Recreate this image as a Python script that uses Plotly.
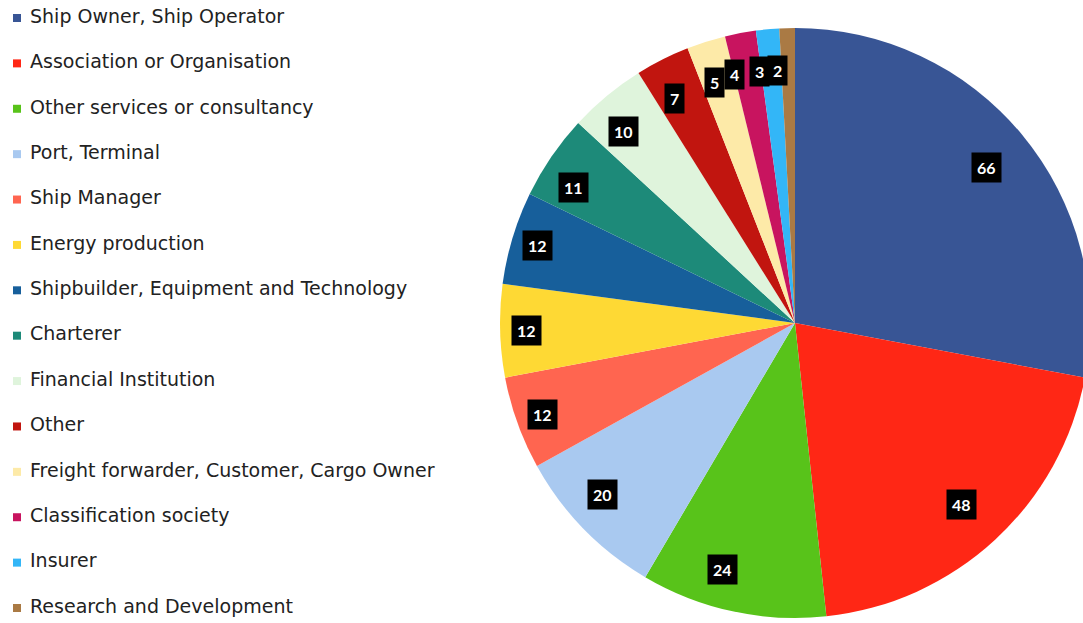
import numpy as np
import plotly.graph_objects as go

categories = [
    "Ship Owner, Ship Operator",
    "Association or Organisation",
    "Other services or consultancy",
    "Port, Terminal",
    "Ship Manager",
    "Energy production",
    "Shipbuilder, Equipment and Technology",
    "Charterer",
    "Financial Institution",
    "Other",
    "Freight forwarder, Customer, Cargo Owner",
    "Classification society",
    "Insurer",
    "Research and Development",
]
counts = [66, 48, 24, 20, 12, 12, 12, 11, 10, 7, 5, 4, 3, 2]
colors = [
    "#385595", "#ff2715", "#58c31a", "#a9c9f0", "#ff6550", "#fed934", "#175f9b",
    "#1d8a79", "#dff4dc", "#c1150f", "#fdeaa8", "#c8145f", "#33b6f7", "#aa7a44",
]

# figure is a bit wider than the window so the pie is cut at the right edge
W, H = 1091, 623
px0, px1 = 500, 1090
py0, py1 = 28, 618
dom_x = [px0 / W, px1 / W]
dom_y = [1 - py1 / H, 1 - py0 / H]

fig = go.Figure()

fig.add_trace(
    go.Pie(
        labels=categories,
        values=counts,
        marker=dict(colors=colors, line=dict(width=0)),
        sort=False,
        direction="clockwise",
        rotation=0,
        textinfo="none",
        hoverinfo="label+value",
        showlegend=False,
        domain=dict(x=dom_x, y=dom_y),
    )
)

# legend drawn as square markers plus names on a hidden axis
idx = list(range(len(categories)))
fig.add_trace(
    go.Scatter(
        x=[17] * len(categories),
        y=idx,
        mode="markers",
        marker=dict(symbol="square", size=8, color=colors),
        cliponaxis=False,
        hoverinfo="skip",
        showlegend=False,
    )
)
fig.add_trace(
    go.Scatter(
        x=[30] * len(categories),
        y=idx,
        mode="text",
        text=categories,
        textposition="middle right",
        textfont=dict(family="DejaVu Sans", size=19, color="#222222"),
        cliponaxis=False,
        hoverinfo="skip",
        showlegend=False,
    )
)

# value labels in black boxes around the pie
cx = (px0 + px1) / 2
cy = (py0 + py1) / 2
r = min(px1 - px0, py1 - py0) / 2
total = sum(counts)
cum = np.cumsum([0] + counts[:-1])
for v, c in zip(counts, cum):
    ang = (c + v / 2) / total * 2 * np.pi
    lx = cx + 0.91 * r * np.sin(ang)
    ly = cy - 0.91 * r * np.cos(ang)
    fig.add_annotation(
        x=lx / W,
        y=1 - ly / H,
        xref="paper",
        yref="paper",
        text="<b>%d</b>" % v,
        showarrow=False,
        bgcolor="black",
        borderpad=5,
        font=dict(family="Lato", size=16, color="white"),
    )

spacing = (608 - 18) / 13
fig.update_layout(
    width=W,
    height=H,
    margin=dict(l=0, r=0, t=0, b=0),
    paper_bgcolor="white",
    plot_bgcolor="white",
    xaxis=dict(domain=[0, 450 / W], range=[0, 450], visible=False, fixedrange=True),
    yaxis=dict(
        domain=[0, 1],
        range=[13 + (H - 608) / spacing, -18 / spacing],
        visible=False,
        fixedrange=True,
    ),
)

fig.write_html(
    "out.html",
    config={"displayModeBar": False},
    post_script="document.body.style.margin='0';document.body.style.overflow='hidden';",
)
